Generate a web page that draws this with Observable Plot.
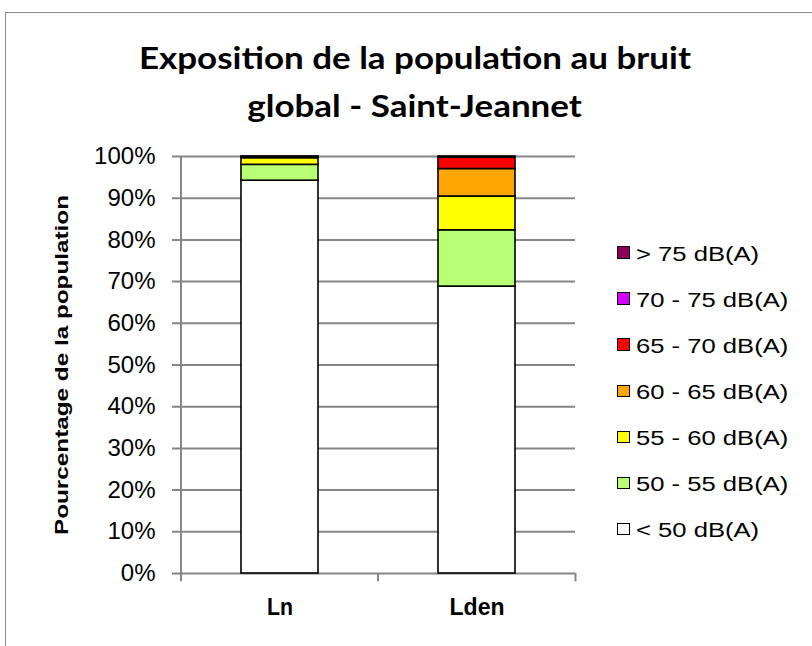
<!DOCTYPE html>
<html>
<head>
<meta charset="utf-8">
<script src="https://cdn.jsdelivr.net/npm/d3@7"></script>
<script src="https://cdn.jsdelivr.net/npm/@observablehq/plot@0.6"></script>
<style>
  html, body { margin: 0; padding: 0; background: #fff; }
  #wrap { position: relative; width: 812px; height: 646px; overflow: hidden; font-family: "Liberation Sans", Arial, sans-serif; }
  #border { position: absolute; left: 5px; top: 12px; width: 900px; height: 800px; border: 1.5px solid #8a8a8a; box-sizing: border-box; }
  #title { position: absolute; left: 0; width: 830px; top: 33px; text-align: center; font-family: Lato, "Open Sans", sans-serif; font-weight: 700; font-size: 30px; line-height: 48px; color: #000; }
  #title span { display: inline-block; transform-origin: center; white-space: nowrap; }
  #legend { position: absolute; left: 617px; top: 231px; font-size: 20px; color: #000; }
  .item { display: flex; align-items: center; height: 46.1px; white-space: nowrap; }
  .sw { width: 10.5px; height: 10.5px; border: 1.5px solid #000; margin-right: 6px; margin-top: -3px; flex: none; }
  .lt { display: inline-block; transform: scaleX(1.28); transform-origin: left center; }
  svg { position: absolute; left: 0; top: 0; }
</style>
</head>
<body>
<div id="wrap">
  <div id="border"></div>
</div>
<script>
const categories = ["Ln", "Lden"];
const bands = ["< 50 dB(A)", "50 - 55 dB(A)", "55 - 60 dB(A)", "60 - 65 dB(A)", "65 - 70 dB(A)", "70 - 75 dB(A)", "> 75 dB(A)"];
const colors = ["#ffffff", "#b9ff73", "#ffff00", "#ffa500", "#ff0000", "#d400ff", "#8b0058"];
const lnValues = [94.2, 3.8, 1.6, 0.3, 0.1, 0.0, 0.0];
const ldenValues = [68.8, 13.5, 8.1, 6.6, 2.7, 0.3, 0.0];
const yTicks = [0, 10, 20, 30, 40, 50, 60, 70, 80, 90, 100];
const titleLines = ["Exposition de la population au bruit", "global - Saint-Jeannet"];
const yLabel = "Pourcentage de la population";

const rows = [];
bands.forEach((b, i) => {
  rows.push({cat: "Ln", band: b, value: lnValues[i]});
  rows.push({cat: "Lden", band: b, value: ldenValues[i]});
});

const grid = "#868686";
const chart = Plot.plot({
  width: 812,
  height: 646,
  marginLeft: 180,
  marginRight: 237,
  marginTop: 156,
  marginBottom: 73,
  style: {fontFamily: "'Liberation Sans', Arial, sans-serif", background: "transparent", overflow: "visible"},
  x: {domain: categories, padding: 0, label: null},
  y: {domain: [0, 100], ticks: yTicks, label: null},
  color: {domain: bands, range: colors},
  marks: [
    Plot.ruleY(yTicks, {y: d => d, stroke: grid, strokeWidth: 2, insetLeft: -8}),
    Plot.ruleX([categories[0]], {x: d => d, y1: 0, y2: 100, dx: -99, stroke: grid, strokeWidth: 2}),
    Plot.ruleX(categories, {x: d => d, y1: 0, y2: -2, dx: -99, stroke: grid, strokeWidth: 2}),
    Plot.ruleX([categories[categories.length - 1]], {x: d => d, y1: 0, y2: -2, dx: 98.5, stroke: grid, strokeWidth: 2}),
    Plot.barY(rows, Plot.stackY({order: bands}, {x: "cat", y: "value", fill: "band", stroke: "#000", strokeWidth: 1.6, insetLeft: 60, insetRight: 60})),
    Plot.axisY({ticks: yTicks, tickFormat: d => d + "%", tickSize: 0, tickPadding: 25, fontSize: 24, label: yLabel, labelAnchor: "center", labelArrow: "none", labelOffset: 125}),
    Plot.axisX({tickSize: 0, tickPadding: 24, fontSize: 24, fontWeight: "bold", label: null})
  ]
});
const xLens = {"Ln": 26, "Lden": 55};
chart.querySelectorAll("text").forEach(t => {
  const s = t.textContent;
  if (s === yLabel) {
    t.setAttribute("font-weight", "bold");
    t.setAttribute("font-size", "17.5");
    t.setAttribute("textLength", "340");
    t.setAttribute("lengthAdjust", "spacingAndGlyphs");
  } else if (xLens[s] && t.closest("[aria-label='x-axis tick label']")) {
    t.setAttribute("textLength", xLens[s]);
    t.setAttribute("lengthAdjust", "spacingAndGlyphs");
  }
});
document.getElementById("wrap").appendChild(chart);

const title = document.createElement("div");
title.id = "title";
title.innerHTML = titleLines.map(l => `<span>${l}</span>`).join("<br>");
document.getElementById("wrap").appendChild(title);
const spans = title.querySelectorAll("span");
const sc = 552 / spans[0].getBoundingClientRect().width;
spans.forEach(s => s.style.transform = `scaleX(${sc})`);

const legend = document.createElement("div");
legend.id = "legend";
bands.slice().reverse().forEach((b) => {
  const i = bands.indexOf(b);
  const it = document.createElement("div");
  it.className = "item";
  it.innerHTML = `<span class="sw" style="background:${colors[i]}"></span><span class="lt">${b}</span>`;
  legend.appendChild(it);
});
document.getElementById("wrap").appendChild(legend);
</script>
</body>
</html>
